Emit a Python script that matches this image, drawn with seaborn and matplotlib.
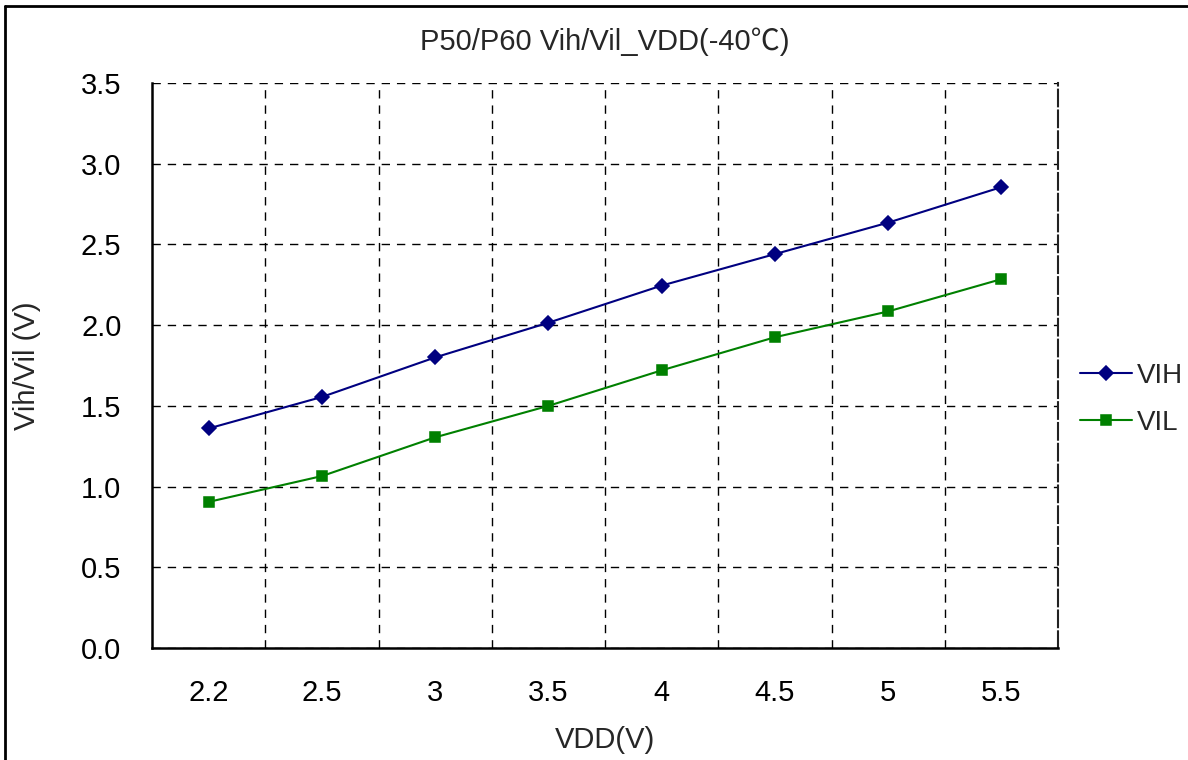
import pandas as pd
import matplotlib.pyplot as plt
import seaborn as sns
from matplotlib.lines import Line2D
from matplotlib.ticker import MultipleLocator, FormatStrFormatter

# Данные
vdd_labels = ['2.2', '2.5', '3', '3.5', '4', '4.5', '5', '5.5']
vih_values = [1.36, 1.555, 1.80, 2.015, 2.245, 2.44, 2.635, 2.855]
vil_values = [0.905, 1.065, 1.305, 1.50, 1.72, 1.925, 2.085, 2.285]
series_names = ['VIH', 'VIL']
series_colors = ['#000080', '#008000']

sns.set_style('white')
plt.rcParams['font.family'] = ['Liberation Sans', 'Noto Sans CJK SC', 'DejaVu Sans']

df = pd.DataFrame({
    'VDD': vdd_labels * 2,
    'V': vih_values + vil_values,
    'series': [series_names[0]] * len(vdd_labels) + [series_names[1]] * len(vdd_labels),
})

fig = plt.figure(figsize=(11.88, 7.6), dpi=100)
ax = fig.add_axes([152 / 1188, 1 - 648 / 760, 906 / 1188, 565 / 760])

sns.pointplot(data=df, x='VDD', y='V', hue='series', order=vdd_labels,
              hue_order=series_names, palette=series_colors,
              markers=['D', 's'], linestyles=['-', '-'], dodge=False,
              errorbar=None, markersize=7, linewidth=1.5, ax=ax)

ax.set_xlim(-0.5, len(vdd_labels) - 0.5)
ax.set_ylim(0, 3.5)
ax.yaxis.set_major_locator(MultipleLocator(0.5))
ax.yaxis.set_major_formatter(FormatStrFormatter('%.1f'))
ax.set_xticks([i + 0.5 for i in range(len(vdd_labels) - 1)], minor=True)

# Сетка: горизонтальные линии по делениям, вертикальные — между категориями
ax.grid(False)
ax.yaxis.grid(True, which='major', color='black', linestyle=(0, (6, 5)), linewidth=1)
ax.xaxis.grid(True, which='minor', color='black', linestyle=(0, (6, 5)), linewidth=1)
ax.set_axisbelow(True)

ax.tick_params(axis='both', which='both', length=0, labelsize=21, colors='black')
ax.tick_params(axis='x', pad=22)
ax.tick_params(axis='y', pad=22)

for side in ['left', 'bottom']:
    ax.spines[side].set_color('black')
    ax.spines[side].set_linewidth(1.8)
ax.spines['top'].set_visible(False)
ax.spines['right'].set_color('#222222')
ax.spines['right'].set_linewidth(1.5)
ax.spines['right'].set_linestyle((0, (8, 2)))

ax.set_xlabel('VDD(V)', fontsize=21, labelpad=14)
ax.set_ylabel('Vih/Vil (V)', fontsize=21, labelpad=29)
ax.set_title('P50/P60 Vih/Vil_VDD(-40℃)', fontsize=21, pad=24)

ax.legend(loc='center left', bbox_to_anchor=(1.0, 0.44), frameon=False,
          fontsize=20, handlelength=1.85, handletextpad=0.2, labelspacing=0.75,
          borderpad=0.4, borderaxespad=0.4)

# Рамка рисунка (видны только левая и верхняя стороны)
fig.add_artist(Line2D([5 / 1188, 5 / 1188], [0, 1 - 6 / 760], color='black', linewidth=2,
                      transform=fig.transFigure))
fig.add_artist(Line2D([5 / 1188, 1], [1 - 6 / 760, 1 - 6 / 760], color='black', linewidth=2,
                      transform=fig.transFigure))

plt.savefig('out.png', dpi=100)
